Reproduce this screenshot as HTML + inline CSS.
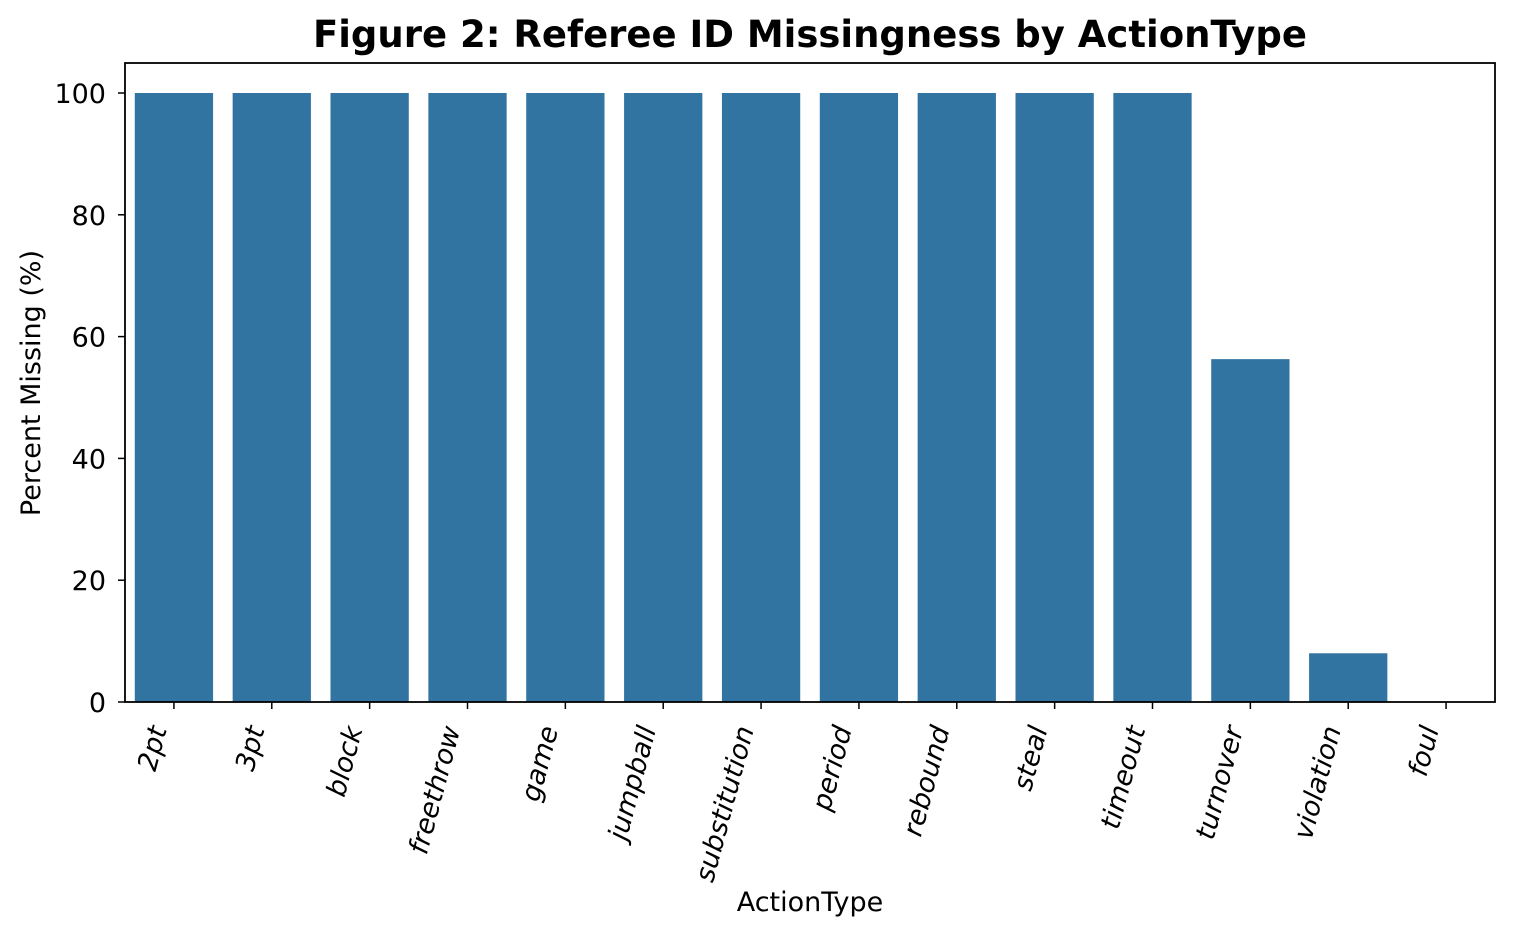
<!DOCTYPE html>
<html><head><meta charset="utf-8"><style>
body{margin:0;background:#fff;}
svg text{font-family:"DejaVu Sans","Liberation Sans",sans-serif;fill:#000;}
</style></head><body>
<svg id="chart" width="1514" height="936" xmlns="http://www.w3.org/2000/svg">
<text x="810" y="47" text-anchor="middle" font-size="37" font-weight="bold">Figure 2: Referee ID Missingness by ActionType</text>
<g id="bars"></g>
<g id="axes"></g>
<text x="810" y="911" text-anchor="middle" font-size="27">ActionType</text>
<text transform="translate(40,383) rotate(-90)" text-anchor="middle" font-size="27">Percent Missing (%)</text>
</svg>
<script>
const categories=["2pt","3pt","block","freethrow","game","jumpball","substitution","period","rebound","steal","timeout","turnover","violation","foul"];
const values=[100,100,100,100,100,100,100,100,100,100,100,56.3,8.0,0];
const yTicks=[0,20,40,60,80,100];
const L=125,R=1495,T=63,B=702,ymax=(702-63)/6.09;
const ns="http://www.w3.org/2000/svg";
const band=(R-L)/categories.length;
function x(i){return L+band*i+band/2;}
function y(v){return B-(B-T)*v/ymax;}
const bars=document.getElementById('bars'),axes=document.getElementById('axes');
function mk(tag,attrs,parent){const e=document.createElementNS(ns,tag);for(const k in attrs)e.setAttribute(k,attrs[k]);parent.appendChild(e);return e;}
categories.forEach((c,i)=>{
 const r=mk('rect',{x:x(i)-band*0.4,y:y(values[i]),width:band*0.8,height:B-y(values[i]),fill:'#3274a1'},bars);
 
 
 const t=mk('line',{x1:x(i),x2:x(i),y1:B,y2:B+7,stroke:'#000','stroke-width':1.5},axes);
 
 
 const lb=mk('text',{transform:`translate(${x(i)-7},${B+27}) rotate(-75)`,'text-anchor':'end','font-size':27,'font-style':'italic'},axes);
 lb.textContent=c;
 
 
});
yTicks.forEach(v=>{
 const t=mk('line',{x1:L-7,x2:L,y1:y(v),y2:y(v),stroke:'#000','stroke-width':1.5},axes);
 
 
 const lb=mk('text',{x:L-19,y:y(v)+10,'text-anchor':'end','font-size':27},axes);
 lb.textContent=v;
 
 
});
const fr=mk('rect',{x:L,y:T,width:R-L,height:B-T,fill:'none',stroke:'#000','stroke-width':1.8},axes);


</script>
</body></html>
